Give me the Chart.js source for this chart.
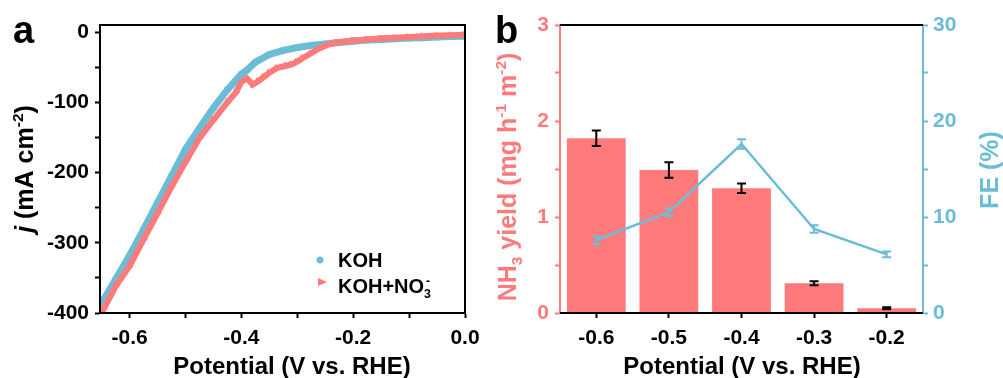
<!DOCTYPE html>
<html>
<head>
<meta charset="utf-8">
<script src="https://cdn.jsdelivr.net/npm/chart.js@4.4.1/dist/chart.umd.min.js"></script>
<style>
    html, body { margin: 0; padding: 0; background: #fff; }
    #wrap { position: relative; width: 1003px; height: 378px; }
    #box-a { position: absolute; left: 0; top: 0; width: 490px; height: 378px; }
    #box-b { position: absolute; left: 490px; top: 0; width: 513px; height: 378px; }
</style>
</head>
<body>
<div id="wrap">
    <div id="box-a"><canvas id="graph-a"></canvas></div>
    <div id="box-b"><canvas id="graph-b"></canvas></div>
</div>
<script>
// panel a: LSV curves
const kohPotential = [-0.650, -0.625, -0.600, -0.575, -0.550, -0.525, -0.500, -0.475, -0.450, -0.425,
    -0.400, -0.390, -0.375, -0.350, -0.325, -0.300, -0.275, -0.250, -0.225, -0.200,
    -0.175, -0.150, -0.125, -0.100, -0.075, -0.050, -0.025, 0.000];
const kohCurrent = [-386, -352, -318, -281, -243, -205, -167, -137, -108, -82,
    -60, -54, -43, -32, -26, -22, -19, -17, -15, -13,
    -11.5, -10.5, -9.5, -8.5, -8, -7, -6.5, -6];

const nitratePotential = [-0.650, -0.625, -0.600, -0.575, -0.550, -0.525, -0.500, -0.475, -0.450, -0.425,
    -0.410, -0.400, -0.390, -0.380, -0.370, -0.360, -0.350, -0.336, -0.320, -0.310,
    -0.300, -0.290, -0.275, -0.260, -0.245, -0.230, -0.200, -0.175, -0.150, -0.125,
    -0.100, -0.075, -0.050, -0.025, 0.000];
const nitrateCurrent = [-400, -362, -333, -295, -258, -220, -185, -151, -125, -100,
    -86, -71, -66, -75, -70, -64, -58, -51, -48, -46,
    -42, -37, -30, -23, -18, -15, -12, -10.5, -9, -8,
    -7, -6, -5, -4.5, -4];

const potentialTicksA = [-0.6, -0.5, -0.4, -0.3, -0.2, -0.1, 0.0];
const currentTicksA = [-400, -350, -300, -250, -200, -150, -100, -50, 0];

// panel b: yield + FE
const potentials = ["-0.6", "-0.5", "-0.4", "-0.3", "-0.2"];
const nh3Yield = [1.82, 1.49, 1.30, 0.31, 0.05];
const nh3Error = [0.08, 0.08, 0.05, 0.02, 0.01];
const faradaicEff = [7.6, 10.5, 17.6, 8.75, 6.1];
const feError = [0.4, 0.4, 0.5, 0.4, 0.3];

const yieldTicks = [0, 0.5, 1, 1.5, 2, 2.5, 3];
const feTicks = [0, 5, 10, 15, 20, 25, 30];

const RED = "#FF7B7B";
const BLUE = "#6BBCD6";
const FONT = '"Liberation Sans", Arial, sans-serif';

const tickFont = { family: FONT, size: 21, weight: "bold" };

function drawRich(ctx, parts, x, y, opts) {
    const size = opts.size;
    ctx.save();
    ctx.translate(x, y);
    if (opts.rotate) ctx.rotate(opts.rotate);
    ctx.fillStyle = opts.color || "#000";
    ctx.textBaseline = "alphabetic";
    ctx.textAlign = "left";

    const fontFor = (p) => (p.it ? "italic " : "") + "bold " + ((p.sup || p.sub) ? size * 0.62 : size) + "px " + FONT;

    let total = 0;
    for (const p of parts) {
        ctx.font = fontFor(p);
        p.w = ctx.measureText(p.t).width;
        if (!p.back) total += p.w;
    }

    let cx = opts.middle ? -total / 2 : 0;
    const base = opts.middle ? size * 0.36 : 0;
    let lastX = cx;

    for (const p of parts) {
        ctx.font = fontFor(p);
        let dy = 0;
        if (p.sup) dy = -size * 0.4;
        if (p.sub) dy = size * 0.24;
        const px = p.back ? lastX + 2 : cx;
        ctx.fillText(p.t, px, base + dy);
        if (!p.back) {
            lastX = cx;
            cx += p.w;
        }
    }
    ctx.restore();
}

function drawErrorBars(ctx, xScale, yScale, values, errors, color) {
    ctx.save();
    ctx.strokeStyle = color;
    ctx.lineWidth = 2;
    values.forEach((v, i) => {
        const x = xScale.getPixelForValue(i);
        const top = yScale.getPixelForValue(v + errors[i]);
        const bottom = yScale.getPixelForValue(v - errors[i]);
        ctx.beginPath();
        ctx.moveTo(x, top);
        ctx.lineTo(x, bottom);
        ctx.moveTo(x - 4.5, top);
        ctx.lineTo(x + 4.5, top);
        ctx.moveTo(x - 4.5, bottom);
        ctx.lineTo(x + 4.5, bottom);
        ctx.stroke();
    });
    ctx.restore();
}

const axisGrid = (color) => ({
    display: true,
    drawOnChartArea: false,
    drawTicks: true,
    tickLength: 5,
    tickWidth: 2,
    tickColor: color,
    offset: false,
});

// ---------- panel a ----------
const frameA = {
    id: "frameA",
    afterDraw(chart) {
        const ctx = chart.ctx;
        const area = chart.chartArea;
        ctx.save();
        ctx.strokeStyle = "#000";
        ctx.lineWidth = 2;
        ctx.strokeRect(area.left, area.top, area.right - area.left, area.bottom - area.top);
        ctx.restore();

        ctx.save();
        ctx.font = "bold 38px " + FONT;
        ctx.fillStyle = "#000";
        ctx.fillText("a", 13, 43);
        ctx.restore();

        drawRich(ctx, [{ t: "j", it: true }, { t: " (mA cm" }, { t: "-2", sup: true }, { t: ")" }],
            24, 169, { size: 25, rotate: -Math.PI / 2, middle: true });
        drawRich(ctx, [{ t: "Potential (V vs. RHE)" }], 292, 365, { size: 24, middle: true });

        // legend
        ctx.save();
        ctx.fillStyle = BLUE;
        ctx.beginPath();
        ctx.arc(320, 260, 3.5, 0, Math.PI * 2);
        ctx.fill();
        ctx.fillStyle = RED;
        ctx.beginPath();
        ctx.moveTo(318, 278);
        ctx.lineTo(327, 282);
        ctx.lineTo(318, 286);
        ctx.closePath();
        ctx.fill();
        ctx.restore();

        drawRich(ctx, [{ t: "KOH" }], 338, 267, { size: 20 });
        drawRich(ctx, [{ t: "KOH+NO" }, { t: "3", sub: true }, { t: "-", sup: true, back: true }], 338, 293, { size: 20 });
    }
};

new Chart(document.querySelector("#graph-a"), {
    type: "scatter",
    data: {
        datasets: [
            {
                label: "KOH+NO3-",
                data: nitratePotential.map((x, i) => ({ x: x, y: nitrateCurrent[i] })),
                showLine: true,
                borderColor: RED,
                backgroundColor: RED,
                borderWidth: 6,
                pointStyle: "triangle",
                rotation: 90,
                pointRadius: 4.5,
                pointBorderWidth: 0,
                order: 0,
            },
            {
                label: "KOH",
                data: kohPotential.map((x, i) => ({ x: x, y: kohCurrent[i] })),
                showLine: true,
                borderColor: BLUE,
                backgroundColor: BLUE,
                borderWidth: 7,
                pointStyle: "circle",
                pointRadius: 3.5,
                pointBorderWidth: 0,
                order: 1,
            },
        ]
    },
    options: {
        responsive: true,
        maintainAspectRatio: false,
        animation: false,
        layout: { padding: { top: 25, right: 25, left: 0, bottom: 0 } },
        plugins: {
            legend: { display: false },
            tooltip: { enabled: false },
        },
        scales: {
            x: {
                type: "linear",
                min: -0.653,
                max: 0,
                afterBuildTicks: (scale) => { scale.ticks = potentialTicksA.map(v => ({ value: v })); },
                afterFit: (scale) => { scale.height = 65; },
                grid: axisGrid("#000"),
                border: { display: true, color: "#000", width: 2 },
                ticks: {
                    font: tickFont,
                    color: "#000",
                    padding: 8,
                    maxRotation: 0,
                    autoSkip: false,
                    callback: (v) => Math.round(v * 10) % 2 === 0 ? v.toFixed(1) : "",
                },
            },
            y: {
                type: "linear",
                min: -400,
                max: 10,
                afterBuildTicks: (scale) => { scale.ticks = currentTicksA.map(v => ({ value: v })); },
                afterFit: (scale) => { scale.width = 100; },
                grid: axisGrid("#000"),
                border: { display: true, color: "#000", width: 2 },
                ticks: {
                    font: tickFont,
                    color: "#000",
                    padding: 6,
                    autoSkip: false,
                    callback: (v) => v % 100 === 0 ? v : "",
                },
            },
        },
    },
    plugins: [frameA],
});

// ---------- panel b ----------
const decorB = {
    id: "decorB",
    afterDatasetsDraw(chart) {
        const ctx = chart.ctx;
        const xs = chart.scales.x;
        drawErrorBars(ctx, xs, chart.scales.y, nh3Yield, nh3Error, "#000");
        drawErrorBars(ctx, xs, chart.scales.y1, faradaicEff, feError, BLUE);
    },
    afterDraw(chart) {
        const ctx = chart.ctx;
        const area = chart.chartArea;
        ctx.save();
        ctx.strokeStyle = "#000";
        ctx.lineWidth = 2;
        ctx.beginPath();
        ctx.moveTo(area.left, area.top);
        ctx.lineTo(area.right, area.top);
        ctx.moveTo(area.left, area.bottom);
        ctx.lineTo(area.right, area.bottom);
        ctx.stroke();
        ctx.restore();

        ctx.save();
        ctx.font = "bold 38px " + FONT;
        ctx.fillStyle = "#000";
        ctx.fillText("b", 5, 43);
        ctx.restore();

        drawRich(ctx, [{ t: "NH" }, { t: "3", sub: true }, { t: " yield (mg h" }, { t: "-1", sup: true },
            { t: " m" }, { t: "-2", sup: true }, { t: ")" }],
            17, 177, { size: 25, rotate: -Math.PI / 2, middle: true, color: RED });
        drawRich(ctx, [{ t: "FE (%)" }], 499, 170, { size: 25, rotate: -Math.PI / 2, middle: true, color: BLUE });
        drawRich(ctx, [{ t: "Potential (V vs. RHE)" }], 252, 365, { size: 24, middle: true });
    }
};

new Chart(document.querySelector("#graph-b"), {
    type: "bar",
    data: {
        labels: potentials,
        datasets: [
            {
                type: "line",
                label: "FE (%)",
                data: faradaicEff,
                yAxisID: "y1",
                borderColor: BLUE,
                backgroundColor: BLUE,
                borderWidth: 2.5,
                pointRadius: 0,
                order: 0,
            },
            {
                type: "bar",
                label: "NH3 yield",
                data: nh3Yield,
                yAxisID: "y",
                backgroundColor: RED,
                categoryPercentage: 0.81,
                barPercentage: 1,
                order: 1,
            },
        ]
    },
    options: {
        responsive: true,
        maintainAspectRatio: false,
        animation: false,
        layout: { padding: { top: 25, right: 0, left: 0, bottom: 0 } },
        plugins: {
            legend: { display: false },
            tooltip: { enabled: false },
        },
        scales: {
            x: {
                offset: true,
                afterFit: (scale) => { scale.height = 65; },
                grid: axisGrid("#000"),
                border: { display: true, color: "#000", width: 2 },
                ticks: { font: tickFont, color: "#000", padding: 8, maxRotation: 0 },
            },
            y: {
                position: "left",
                min: 0,
                max: 3,
                afterBuildTicks: (scale) => { scale.ticks = yieldTicks.map(v => ({ value: v })); },
                afterFit: (scale) => { scale.width = 70; },
                grid: axisGrid(RED),
                border: { display: true, color: RED, width: 2 },
                ticks: {
                    font: tickFont,
                    color: RED,
                    padding: 6,
                    autoSkip: false,
                    callback: (v) => Number.isInteger(v) ? v : "",
                },
            },
            y1: {
                position: "right",
                min: 0,
                max: 30,
                afterBuildTicks: (scale) => { scale.ticks = feTicks.map(v => ({ value: v })); },
                afterFit: (scale) => { scale.width = 80; },
                grid: axisGrid(BLUE),
                border: { display: true, color: BLUE, width: 2 },
                ticks: {
                    font: tickFont,
                    color: BLUE,
                    padding: 5,
                    autoSkip: false,
                    callback: (v) => v % 10 === 0 ? v : "",
                },
            },
        },
    },
    plugins: [decorB],
});
</script>
</body>
</html>
